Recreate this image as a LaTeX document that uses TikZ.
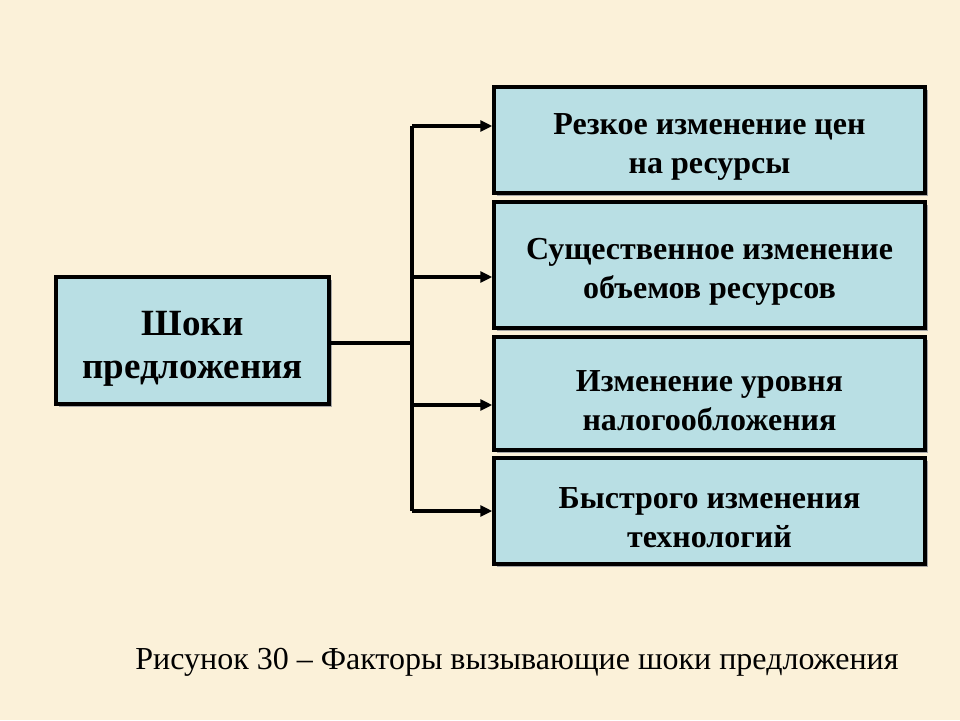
\documentclass[tikz,border=0pt]{standalone}
\usepackage{fontspec}
\setmainfont{Liberation Serif}
\usetikzlibrary{arrows.meta,shadows}
\definecolor{paper}{RGB}{251,241,217}
\definecolor{boxblue}{RGB}{185,223,228}
\newcommand\topgap{\rule{0pt}{1.1em}}
\tikzset{
  factor/.style={draw=black,line width=3.5pt,fill=boxblue,minimum width=431pt,
    inner sep=0pt,align=center,font=\fontsize{32}{39}\selectfont\bfseries,
    drop shadow={shadow xshift=2.5pt,shadow yshift=-2.5pt,fill=black!35,opacity=1}},
  link/.style={line width=3.5pt},
  arr/.style={link,-{Triangle[length=12pt,width=11pt]}}
}
\begin{document}
\begin{tikzpicture}[x=1pt,y=-1pt]
\fill[paper] (0,0) rectangle (960,720);
\useasboundingbox (0,0) rectangle (960,720);
% factors
\node[factor,minimum height=106pt] (f1) at (709.5,140) {\topgap Резкое изменение цен\\на ресурсы};
\node[factor,minimum height=126pt] (f2) at (709.5,265) {\topgap Существенное изменение\\объемов ресурсов};
\node[factor,minimum height=113pt] (f3) at (709.5,393.5) {\topgap Изменение уровня\\налогообложения};
\node[factor,minimum height=106pt] (f4) at (709.5,511) {\topgap Быстрого изменения\\технологий};
\node[factor,minimum width=273pt,minimum height=127pt,font=\fontsize{37}{43}\selectfont\bfseries] (shok) at (192.5,340.5) {\topgap Шоки\\предложения};
% bus
\coordinate (b1) at (412,126);
\coordinate (b2) at (412,277);
\coordinate (b3) at (412,405);
\coordinate (b4) at (412,511);
\draw[link] (shok.east |- 0,343) -- (b1 |- 0,343);
\draw[link] (b1) -- (b4);
\draw[arr] (b1) -- (b1 -| f1.west);
\draw[arr] (b2) -- (b2 -| f2.west);
\draw[arr] (b3) -- (b3 -| f3.west);
\draw[arr] (b4) -- (b4 -| f4.west);
\node[font=\fontsize{32}{36}\selectfont] (cap) at (517,662) {Рисунок 30 – Факторы вызывающие шоки предложения};
\end{tikzpicture}
\end{document}
